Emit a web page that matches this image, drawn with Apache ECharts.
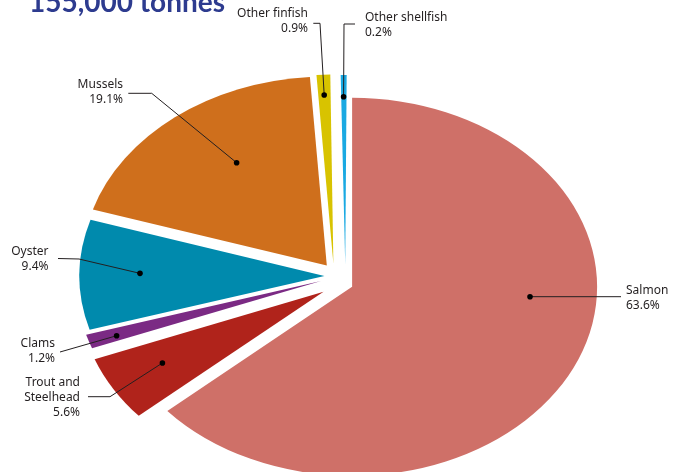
<!DOCTYPE html>
<html>
<head>
<meta charset="utf-8">
<script src="https://cdn.jsdelivr.net/npm/echarts@6/dist/echarts.min.js"></script>
<style>
  html, body { margin: 0; padding: 0; background: #ffffff; }
  #chart { width: 681px; height: 472px; }
</style>
</head>
<body>
<div id="chart"></div>
<script>
// ---- Data ----
const categories = ['Salmon', 'Trout and Steelhead', 'Clams', 'Oyster', 'Mussels', 'Other finfish', 'Other shellfish'];
const labelNames = ['Salmon', 'Trout and\nSteelhead', 'Clams', 'Oyster', 'Mussels', 'Other finfish', 'Other shellfish'];
const shares = [63.6, 5.6, 1.2, 9.4, 19.1, 0.9, 0.2];
const titleText = '155,000 tonnes';

// ---- Styles / layout ----
const colors = ['#cf7068', '#b0231b', '#7b2a84', '#008aad', '#cf6f1c', '#d8c300', '#1aa9e2'];
// explosion of each slice: [radial, tangential] in px (before horizontal stretch)
const explode = [[13, 6], [19, -7], [15.5, 0], [12, 0], [14.5, -1.5], [12.6, -4.6], [12, 4.1]];
// label dot placement inside each slice: [fraction of slice angle, fraction of radius]
const dotPlace = [[0.411, 0.728], [0.557, 0.758], [0.40, 0.883], [0.52, 0.753], [0.562, 0.657], [0.48, 0.893], [0.45, 0.885]];
// leader line bends and text anchors
const labelLayout = [
  { via: [], end: [621, null], tx: 626, ty: 283, align: 'left' },
  { via: [[110, 396.7]], end: [88, 396.7], tx: 80, ty: 375, align: 'right' },
  { via: [], end: [60, 352], tx: 55, ty: 336.5, align: 'right' },
  { via: [[79, 259]], end: [58, 258.5], tx: 48.5, ty: 244, align: 'right' },
  { via: [[151.7, 93.3]], end: [128.3, 93.3], tx: 123, ty: 77.5, align: 'right' },
  { via: [[320, 23.3]], end: [313.3, 23.3], tx: 308, ty: 6.5, align: 'right' },
  { via: [[344, 24]], end: [355, 24], tx: 365, ty: 10, align: 'left' }
];
const pieCenter = [340, 276];
const radiusY = 189;
const stretchX = 245 / 189;
const minAngleDeg = 1.4;   // minimum drawn angle for tiny slices
const labelFont = "12px 'Noto Sans'";
const labelColor = '#231f20';

const total = shares.reduce((a, b) => a + b, 0);

function renderItem(params, api) {
  const i = params.dataIndex;
  const v = api.value(0);
  let before = 0;
  for (let j = 0; j < i; j++) before += shares[j];
  let a0 = before / total * Math.PI * 2;
  let a1 = (before + v) / total * Math.PI * 2;
  const m = (a0 + a1) / 2;
  const minA = minAngleDeg * Math.PI / 180;
  if (a1 - a0 < minA) { a0 = m - minA / 2; a1 = m + minA / 2; }
  const er = explode[i][0], et = explode[i][1];
  const ox = er * Math.sin(m) + et * Math.cos(m);
  const oy = -er * Math.cos(m) + et * Math.sin(m);
  const cx = pieCenter[0], cy = pieCenter[1];

  const th = a0 + dotPlace[i][0] * (a1 - a0);
  const rr = dotPlace[i][1] * radiusY;
  const dx = cx + stretchX * (ox + rr * Math.sin(th));
  const dy = cy + (oy - rr * Math.cos(th));

  const L = labelLayout[i];
  const pts = [[dx, dy]];
  L.via.forEach(p => pts.push(p));
  pts.push([L.end[0], L.end[1] == null ? dy : L.end[1]]);

  const text = labelNames[i] + '\n' + v.toFixed(1) + '%';

  return {
    type: 'group',
    children: [
      {
        type: 'sector',
        x: cx, y: cy,
        scaleX: stretchX, scaleY: 1,
        shape: { cx: ox, cy: oy, r0: 0, r: radiusY, startAngle: a0 - Math.PI / 2, endAngle: a1 - Math.PI / 2, clockwise: true },
        style: { fill: colors[i] }
      },
      {
        type: 'polyline',
        shape: { points: pts },
        style: { stroke: labelColor, lineWidth: 1, fill: null },
        z2: 10
      },
      {
        type: 'circle',
        shape: { cx: dx, cy: dy, r: 2.8 },
        style: { fill: '#000000' },
        z2: 11
      },
      {
        type: 'text',
        x: L.tx, y: L.ty,
        style: { text: text, font: labelFont, fill: labelColor, align: L.align, verticalAlign: 'top', lineHeight: 15 },
        z2: 12
      }
    ]
  };
}

const chart = echarts.init(document.getElementById('chart'), null, { renderer: 'canvas' });
chart.setOption({
  animation: false,
  backgroundColor: '#ffffff',
  title: {
    text: titleText,
    left: 29,
    top: -11,
    padding: 0,
    textStyle: { fontFamily: 'Lato', fontWeight: 'bold', fontSize: 28, color: '#2d3b8f' }
  },
  series: [{
    type: 'custom',
    coordinateSystem: 'none',
    renderItem: renderItem,
    data: shares.map((v, i) => ({ name: categories[i], value: v }))
  }]
});
</script>
</body>
</html>
